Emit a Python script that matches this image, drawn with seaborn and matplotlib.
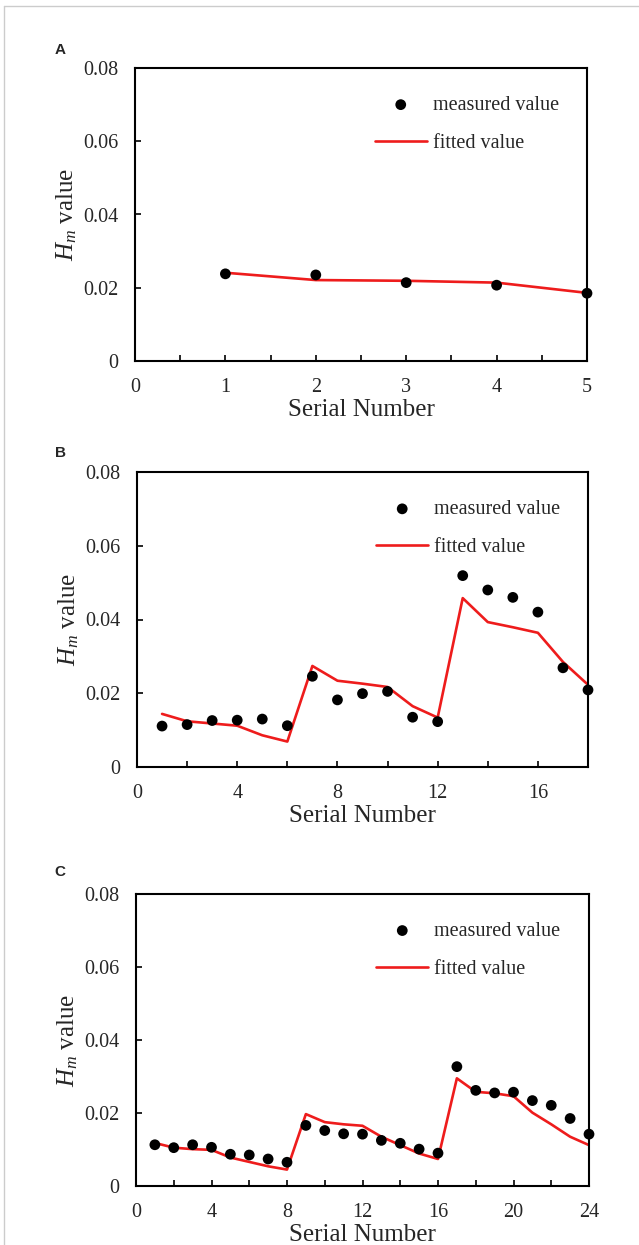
import matplotlib
matplotlib.use("Agg")
import matplotlib.pyplot as plt
from matplotlib.lines import Line2D
from matplotlib.ticker import MultipleLocator
import pandas as pd
import seaborn as sns

# measured / fitted Hm values
serial_a = [1, 2, 3, 4, 5]
measured_a = [0.0238, 0.0235, 0.0214, 0.0207, 0.0185]
fitted_a = [0.0241, 0.0221, 0.0219, 0.0214, 0.0186]

serial_b = list(range(1, 19))
measured_b = [0.0111, 0.0115, 0.0126, 0.0127, 0.0130, 0.0112, 0.0246, 0.0182, 0.0199,
              0.0205, 0.0135, 0.0123, 0.0519, 0.0480, 0.0460, 0.0420, 0.0269, 0.0209]
fitted_b = [0.0144, 0.0124, 0.0118, 0.0112, 0.0086, 0.0069, 0.0274, 0.0234, 0.0226,
            0.0217, 0.0165, 0.0134, 0.0458, 0.0393, 0.0379, 0.0364, 0.0285, 0.0223]

serial_c = list(range(1, 25))
measured_c = [0.0113, 0.0105, 0.0113, 0.0106, 0.0087, 0.0085, 0.0074, 0.0065, 0.0166,
              0.0152, 0.0143, 0.0142, 0.0125, 0.0117, 0.0101, 0.0090, 0.0327, 0.0262,
              0.0255, 0.0257, 0.0234, 0.0221, 0.0185, 0.0142]
fitted_c = [0.0118, 0.0105, 0.0101, 0.0099, 0.0078, 0.0066, 0.0054, 0.0045, 0.0197,
            0.0175, 0.0169, 0.0165, 0.0135, 0.0112, 0.0089, 0.0074, 0.0295, 0.0258,
            0.0254, 0.0246, 0.0201, 0.0169, 0.0135, 0.0112]

y_ticks = [0, 0.02, 0.04, 0.06, 0.08]
y_ticklabels = ["0", "0.02", "0.04", "0.06", "0.08"]

panels = [
    ("A", serial_a, measured_a, fitted_a, 5, 1, 0.5),
    ("B", serial_b, measured_b, fitted_b, 18, 4, 2),
    ("C", serial_c, measured_c, fitted_c, 24, 4, 2),
]

sns.set_style("ticks")
plt.rcParams["font.family"] = ["Liberation Serif", "DejaVu Serif"]
plt.rcParams["mathtext.fontset"] = "custom"
plt.rcParams["mathtext.rm"] = "Liberation Serif"
plt.rcParams["mathtext.it"] = "Liberation Serif:italic"

W, H = 639, 1245
fig = plt.figure(figsize=(W / 100, H / 100), dpi=100)
# thin grey page edge on the top and left only
fig.lines.append(Line2D([4 / W, 1], [1 - 6 / H, 1 - 6 / H], transform=fig.transFigure,
                        color="#cccccc", linewidth=1))
fig.lines.append(Line2D([4 / W, 4 / W], [0, 1 - 6 / H], transform=fig.transFigure,
                        color="#cccccc", linewidth=1))

# axes boxes in pixels: left, top, right, bottom
boxes = [(135, 68, 587, 361), (137, 472, 588, 767), (136, 894, 589, 1186)]
letter_y = [50, 453, 872]

for (letter, x, meas, fit, xmax, major, minor), (l, t, r, b), ly in zip(panels, boxes, letter_y):
    ax = fig.add_axes([l / W, 1 - b / H, (r - l) / W, (b - t) / H])
    df = pd.DataFrame({"serial": x, "measured": meas, "fitted": fit})
    sns.scatterplot(data=df, x="serial", y="measured", ax=ax, color="black", s=60,
                    edgecolor="none", label="measured value", zorder=3, clip_on=False)
    sns.lineplot(data=df, x="serial", y="fitted", ax=ax, color="#ee1c1c", linewidth=1.9,
                 label="fitted value", zorder=2)
    ax.set_xlim(0, xmax)
    ax.set_ylim(0, 0.08)
    ax.xaxis.set_major_locator(MultipleLocator(major))
    ax.xaxis.set_minor_locator(MultipleLocator(minor))
    ax.set_yticks(y_ticks)
    ax.set_yticklabels(y_ticklabels)
    ax.tick_params(axis="both", which="both", direction="in", length=4, width=1.2,
                   labelsize=14.5, color="black", top=False, right=False)
    ax.tick_params(axis="x", which="both", pad=12)
    ax.tick_params(axis="y", which="both", pad=12)
    for sp in ax.spines.values():
        sp.set_visible(True)
        sp.set_color("black")
        sp.set_linewidth(1.5)
    ax.set_xlabel("Serial Number", fontsize=18, labelpad=2)
    ax.set_ylabel(r"$H_m$ value", fontsize=18, labelpad=3)
    ax.legend(loc="upper left", bbox_to_anchor=(0.53, 0.905), frameon=False, fontsize=14.5,
              handlelength=2.6, handletextpad=0.3, borderpad=0, borderaxespad=0,
              labelspacing=0.95, markerscale=1.0)
    fig.text(60 / W, 1 - ly / H, letter, fontsize=11, fontweight="bold",
             family="Liberation Sans", ha="center", va="center")

fig.savefig("out.png", dpi=100)
